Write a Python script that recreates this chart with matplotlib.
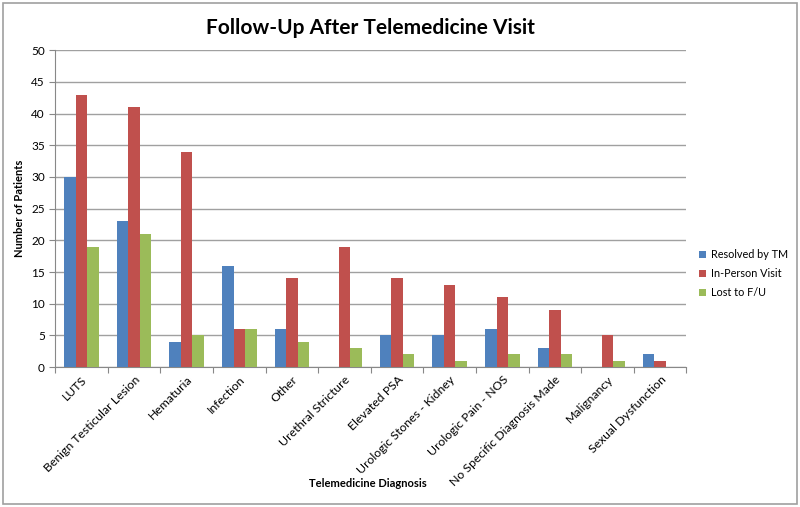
import numpy as np
import matplotlib.pyplot as plt
from matplotlib.patches import Rectangle

plt.rcParams['font.family'] = ['Lato', 'DejaVu Sans']

# data
diagnoses = ['LUTS', 'Benign Testicular Lesion', 'Hematuria', 'Infection', 'Other',
             'Urethral Stricture', 'Elevated PSA', 'Urologic Stones - Kidney',
             'Urologic Pain - NOS', 'No Specific Diagnosis Made', 'Malignancy',
             'Sexual Dysfunction']
resolved_tm = [30, 23, 4, 16, 6, 0, 5, 5, 6, 3, 0, 2]
in_person = [43, 41, 34, 6, 14, 19, 14, 13, 11, 9, 5, 1]
lost_fu = [19, 21, 5, 6, 4, 3, 2, 1, 2, 2, 1, 0]

fig = plt.figure(figsize=(8, 5.07), dpi=100)
ax = fig.add_axes([0.069, 0.276, 0.789, 0.625])

x = np.arange(len(diagnoses))
w = 0.22
ax.bar(x - w, resolved_tm, w, color='#4F81BD', label='Resolved by TM', zorder=3)
ax.bar(x, in_person, w, color='#C0504D', label='In-Person Visit', zorder=3)
ax.bar(x + w, lost_fu, w, color='#9BBB59', label='Lost to F/U', zorder=3)

ax.set_xlim(-0.5, len(diagnoses) - 0.5)
ax.set_ylim(0, 50)
ax.set_yticks(range(0, 51, 5))
ax.yaxis.grid(True, color='#A0A0A0', linewidth=1, zorder=0)

# tick marks sit between the categories
ax.set_xticks(np.arange(-0.5, len(diagnoses), 1), minor=False)
ax.set_xticklabels([])
ax.set_xticks(x, minor=True)
ax.set_xticklabels(diagnoses, minor=True, rotation=45, ha='right',
                   rotation_mode='anchor', fontsize=8.8)
ax.tick_params(axis='x', which='minor', length=0, pad=5)
ax.tick_params(axis='x', which='major', length=4, color='#888888')
ax.tick_params(axis='y', length=4, color='#888888', labelsize=8.5)

for s in ['top', 'right']:
    ax.spines[s].set_visible(False)
for s in ['left', 'bottom']:
    ax.spines[s].set_color('#888888')

ax.set_title('Follow-Up After Telemedicine Visit', fontsize=15, fontweight='bold', pad=12)
ax.set_ylabel('Number of Patients', fontsize=8, fontweight='bold')
fig.text(0.46, 0.04, 'Telemedicine Diagnosis', fontsize=8, fontweight='bold', ha='center')

ax.legend(loc='center left', bbox_to_anchor=(1.02, 0.295), frameon=False, fontsize=7.8,
          handlelength=0.6, handleheight=0.6, handletextpad=0.5, labelspacing=0.75,
          borderpad=0, borderaxespad=0)

# outer chart border
fig.patches.append(Rectangle((0.004, 0.006), 0.992, 0.988, transform=fig.transFigure,
                             fill=False, edgecolor='#A0A0A0', linewidth=1.2))

plt.savefig('out.png', dpi=100)
